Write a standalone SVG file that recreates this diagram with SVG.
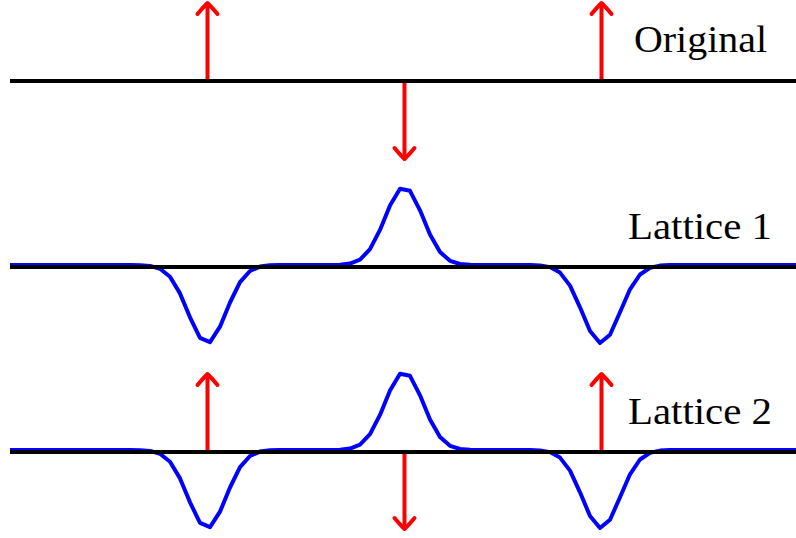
<svg xmlns="http://www.w3.org/2000/svg" width="796" height="538" viewBox="0 0 796 538">
  <style>
    .axis { stroke: #000; stroke-width: 4; fill: none; }
    .wave { stroke: #0000ff; stroke-width: 4; fill: none; stroke-linejoin: round; }
    .arrow { stroke: #ff0000; stroke-width: 4; fill: none; marker-end: url(#ah); }
    .label { font-family: "Liberation Serif", "DejaVu Serif", serif; font-size: 38px; fill: #000; }
  </style>
  <defs>
    <marker id="ah" markerUnits="userSpaceOnUse" viewBox="-15 -15 30 30" markerWidth="30" markerHeight="30" refX="0" refY="0" orient="auto" overflow="visible">
      <path d="M -11,-10 C -6,-6 -2,-2 0,0 C -2,2 -6,6 -11,10" stroke="#ff0000" stroke-width="4" fill="none" stroke-linecap="round" stroke-linejoin="round"/>
    </marker>
  </defs>
  <rect width="796" height="538" fill="#fff"/>

  <g id="original">
    <line class="axis" x1="10" y1="81" x2="796" y2="81"/>
    <text class="label" x="634" y="52" textLength="133" lengthAdjust="spacingAndGlyphs">Original</text>
  </g>

  <g id="lattice1">
    <polyline class="wave" points="10,265 130,265 140,265.2 150,265.9 160,268.7 170,276.7 180,293.4 190,317.3 200,337.9 210,342.1 220,326.7 230,302.5 240,282.2 250,271 260,266.6 270,265.3 280,265 330,265 340,264.7 350,263.6 360,259.7 370,249.2 380,229.9 390,205.6 400,188.7 410,190.8 420,210.3 430,234.4 440,252.1 450,260.8 460,264 470,264.8 480,265 530,265 540,265.4 550,267.1 560,272.6 570,285.6 580,307.3 590,331 600,343 610,334.7 620,312.3 630,289.3 640,274.5 650,267.8 660,265.6 670,265 796,265"/>
    <line class="axis" x1="10" y1="267" x2="796" y2="267"/>
    <text class="label" x="628" y="239" textLength="144" lengthAdjust="spacingAndGlyphs">Lattice 1</text>
  </g>

  <g id="lattice2">
    <polyline class="wave" transform="translate(0,185)" points="10,265 130,265 140,265.2 150,265.9 160,268.7 170,276.7 180,293.4 190,317.3 200,337.9 210,342.1 220,326.7 230,302.5 240,282.2 250,271 260,266.6 270,265.3 280,265 330,265 340,264.7 350,263.6 360,259.7 370,249.2 380,229.9 390,205.6 400,188.7 410,190.8 420,210.3 430,234.4 440,252.1 450,260.8 460,264 470,264.8 480,265 530,265 540,265.4 550,267.1 560,272.6 570,285.6 580,307.3 590,331 600,343 610,334.7 620,312.3 630,289.3 640,274.5 650,267.8 660,265.6 670,265 796,265"/>
    <line class="axis" x1="10" y1="452" x2="796" y2="452"/>
    <text class="label" x="628" y="424" textLength="144" lengthAdjust="spacingAndGlyphs">Lattice 2</text>
  </g>

  <g id="connectors">
    <line class="arrow" x1="207.5" y1="79" x2="207.5" y2="3"/>
    <line class="arrow" x1="601.5" y1="79" x2="601.5" y2="3"/>
    <line class="arrow" x1="404.5" y1="83" x2="404.5" y2="159"/>
    <line class="arrow" x1="207.5" y1="450" x2="207.5" y2="374"/>
    <line class="arrow" x1="601.5" y1="450" x2="601.5" y2="374"/>
    <line class="arrow" x1="404.5" y1="454" x2="404.5" y2="529"/>
  </g>
</svg>
